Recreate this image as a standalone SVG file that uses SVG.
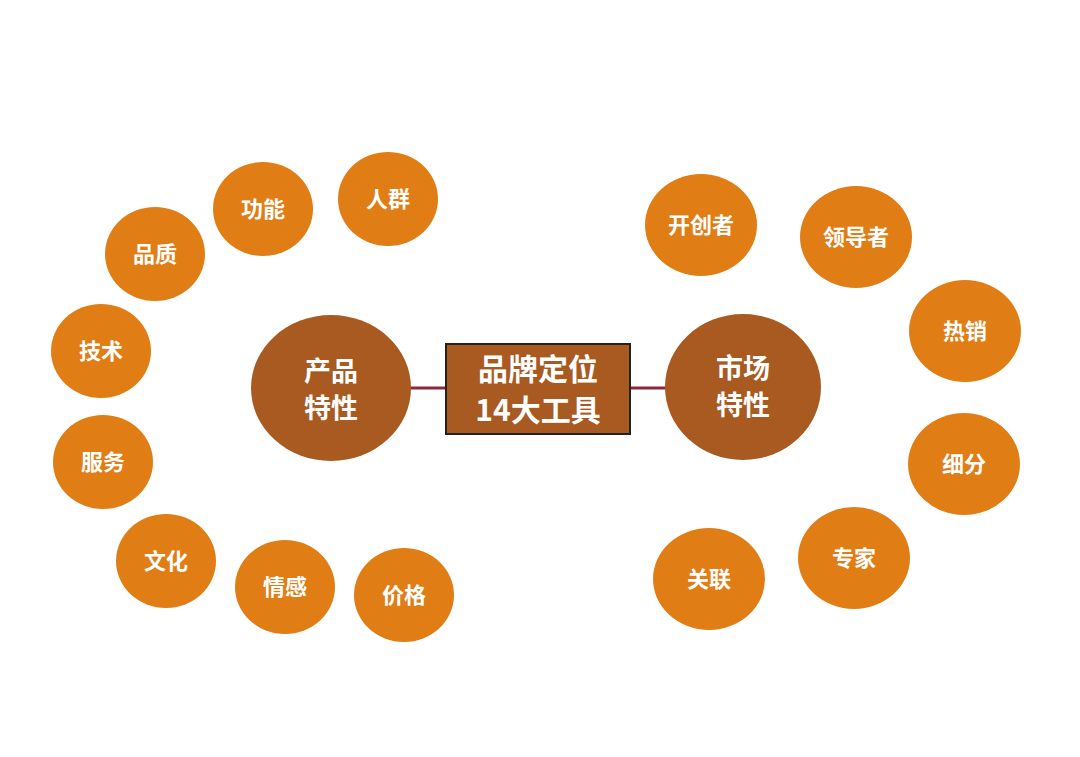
<svg xmlns="http://www.w3.org/2000/svg" width="1080" height="757" viewBox="0 0 1080 757">
<style>
.s{fill:#E07D15}
.b{fill:#A85A20}
text{font-family:"Noto Sans CJK SC","Liberation Sans",sans-serif;font-weight:bold;fill:#fff;text-anchor:middle}
.t{font-size:22px}
.l{font-size:27px}
.c{font-size:30px}
</style>
<rect width="1080" height="757" fill="#fff"/>
<g id="connectors" stroke="#8B2A3A" stroke-width="3">
<line x1="410" y1="388" x2="446" y2="388"/>
<line x1="630" y1="388" x2="666" y2="388"/>
</g>
<g id="center"><rect x="446" y="344" width="184" height="90" class="b" stroke="#222" stroke-width="2"/>
<text class="c" x="538" y="380">品牌定位</text><text class="c" x="538" y="421">14大工具</text></g>
<g id="product"><ellipse cx="331" cy="388" rx="80" ry="73" class="b"/><text class="l" x="331" y="381">产品</text><text class="l" x="331" y="418">特性</text></g>
<g id="market"><ellipse cx="743" cy="387" rx="78" ry="73" class="b"/><text class="l" x="743" y="378">市场</text><text class="l" x="743" y="415">特性</text></g>
<g id="n1"><ellipse cx="263" cy="209" rx="50" ry="47" class="s"/><text class="t" x="263" y="217">功能</text></g>
<g id="n2"><ellipse cx="388" cy="199" rx="50" ry="47" class="s"/><text class="t" x="388" y="207">人群</text></g>
<g id="n3"><ellipse cx="155" cy="254" rx="50" ry="47" class="s"/><text class="t" x="155" y="262">品质</text></g>
<g id="n4"><ellipse cx="101" cy="351" rx="50" ry="47" class="s"/><text class="t" x="101" y="359">技术</text></g>
<g id="n5"><ellipse cx="103" cy="462" rx="50" ry="47" class="s"/><text class="t" x="103" y="470">服务</text></g>
<g id="n6"><ellipse cx="166" cy="561" rx="50" ry="47" class="s"/><text class="t" x="166" y="569">文化</text></g>
<g id="n7"><ellipse cx="285" cy="587" rx="50" ry="47" class="s"/><text class="t" x="285" y="595">情感</text></g>
<g id="n8"><ellipse cx="404" cy="595" rx="50" ry="47" class="s"/><text class="t" x="404" y="603">价格</text></g>
<g id="n9"><ellipse cx="701" cy="225" rx="56" ry="51" class="s"/><text class="t" x="701" y="233">开创者</text></g>
<g id="n10"><ellipse cx="856" cy="237" rx="56" ry="51" class="s"/><text class="t" x="856" y="245">领导者</text></g>
<g id="n11"><ellipse cx="965" cy="331" rx="56" ry="51" class="s"/><text class="t" x="965" y="339">热销</text></g>
<g id="n12"><ellipse cx="964" cy="464" rx="56" ry="51" class="s"/><text class="t" x="964" y="472">细分</text></g>
<g id="n13"><ellipse cx="854" cy="558" rx="56" ry="51" class="s"/><text class="t" x="854" y="566">专家</text></g>
<g id="n14"><ellipse cx="709" cy="579" rx="56" ry="51" class="s"/><text class="t" x="709" y="587">关联</text></g>
</svg>
